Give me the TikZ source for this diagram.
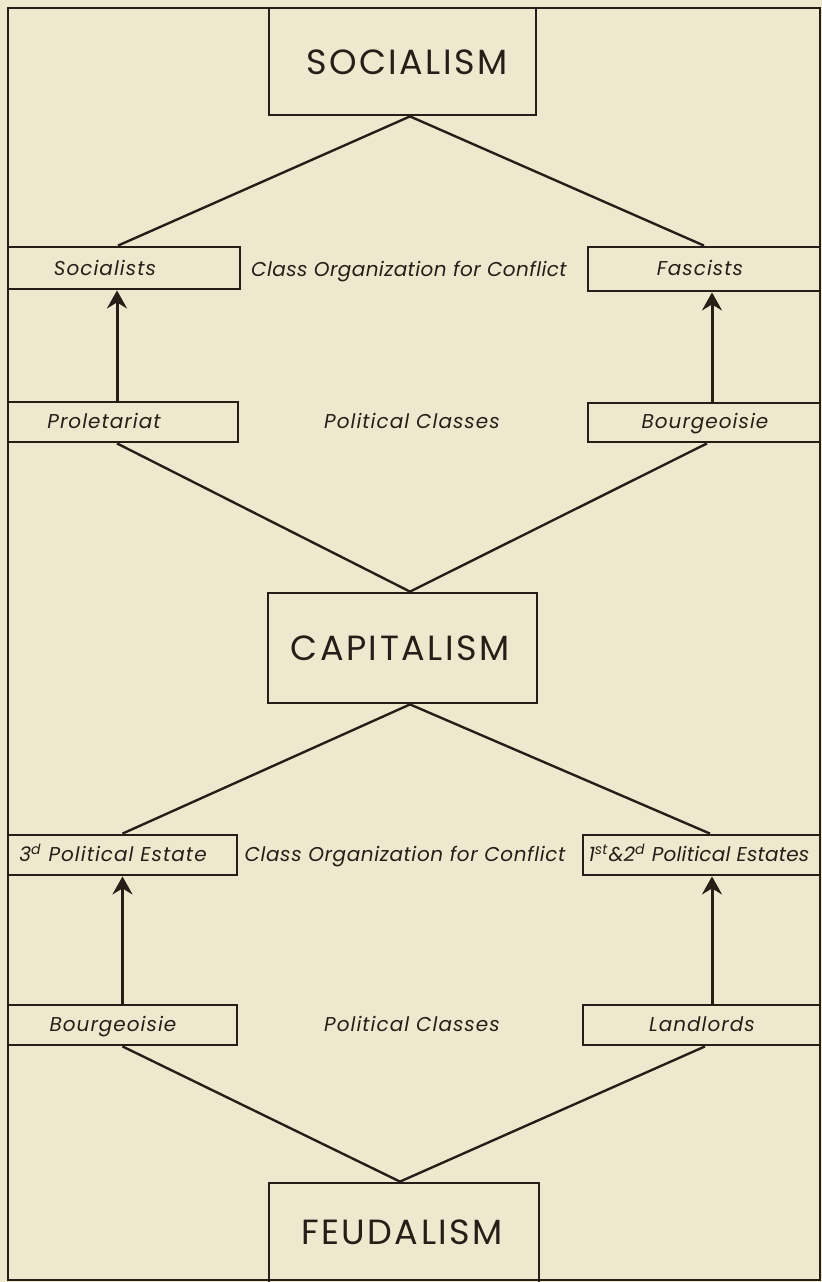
\documentclass[tikz,border=0pt]{standalone}
\usepackage{fontspec}
\setmainfont{Poppins}
\usetikzlibrary{arrows.meta}
\definecolor{bg}{RGB}{238,233,206}
\definecolor{ink}{RGB}{40,30,24}
\newfontfamily\titlefont[LetterSpace=7]{Poppins}
\newfontfamily\labelfont[LetterSpace=5]{Poppins}
\begin{document}
\begin{tikzpicture}[x=0.5pt,y=-0.5pt,
  box/.style={draw=ink, line width=1.4pt, rectangle, inner sep=0pt},
  bigtext/.style={font=\titlefont\fontsize{17.5}{20}\selectfont, text=ink, inner sep=0pt, text height=1.6ex, text depth=0pt},
  lab/.style={font=\labelfont\itshape\fontsize{10}{12}\selectfont, text=ink, inner sep=0pt, text height=1.6ex, text depth=0.45ex},
  link/.style={draw=ink, line width=1.2pt},
  arr/.style={draw=ink, line width=1.5pt, -{Stealth[length=9pt,width=10pt,inset=3pt]}}]
\fill[bg] (0,0) rectangle (822,1282);
\useasboundingbox (0,0) rectangle (822,1282);
\draw[ink, line width=1.2pt] (8,8) rectangle (820,1280);

% boxes
\node[box, minimum width=133.5pt, minimum height=53.5pt] (SOC) at (402.5,61.5) {};
\node[box, minimum width=116pt, minimum height=21pt] (SOCL) at (124,268) {};
\node[box, minimum width=116pt, minimum height=22pt] (FAS) at (704,269) {};
\node[box, minimum width=115pt, minimum height=20pt] (PRO) at (123,422) {};
\node[box, minimum width=116pt, minimum height=19.5pt] (BOU) at (704,422.5) {};
\node[box, minimum width=134.5pt, minimum height=55pt] (CAP) at (402.5,648) {};
\node[box, minimum width=114.5pt, minimum height=20pt] (ESL) at (122.5,855) {};
\node[box, minimum width=118.5pt, minimum height=20pt] (ESR) at (701.5,855) {};
\node[box, minimum width=114.5pt, minimum height=20pt] (BOL) at (122.5,1025) {};
\node[box, minimum width=118.5pt, minimum height=20pt] (LAN) at (701.5,1025) {};
\node[box, minimum width=135pt, minimum height=53.5pt] (FEU) at (404,1236.5) {};

% texts
\node[bigtext] (tSOC) at (407,66) {SOCIALISM};
\node[bigtext] (tCAP) at (400,652) {CAPITALISM};
\node[bigtext] (tFEU) at (402,1236) {FEUDALISM};
\node[lab] (tSOCL) at (105,269) {Socialists};
\node[lab] (tFAS) at (700,269) {Fascists};
\node[lab] (tCO1) at (409,270) {\addfontfeatures{LetterSpace=2}Class Organization for Conflict};
\node[lab] (tPRO) at (104,422) {Proletariat};
\node[lab] (tBOU) at (705,422) {Bourgeoisie};
\node[lab] (tPC1) at (412,422) {Political Classes};
\node[lab] (tESL) at (113,855) {3\textsuperscript{d} Political Estate};
\node[lab] (tCO2) at (405,855) {\addfontfeatures{LetterSpace=3}Class Organization for Conflict};
\node[lab] (tESR) at (699,855) {\addfontfeatures{LetterSpace=1}1\textsuperscript{st}\&2\textsuperscript{d} Political Estates};
\node[lab] (tBOL) at (113,1025) {Bourgeoisie};
\node[lab] (tPC2) at (412,1025) {Political Classes};
\node[lab] (tLAN) at (702,1025) {Landlords};

% diagonal links
\draw[link] ([xshift=3.75pt]SOC.south) -- ([xshift=-3pt]SOCL.north);
\draw[link] ([xshift=3.75pt]SOC.south) -- (FAS.north);
\draw[link] ([xshift=-3pt]PRO.south) -- ([xshift=3.75pt]CAP.north);
\draw[link] ([xshift=1.5pt]BOU.south) -- ([xshift=3.75pt]CAP.north);
\draw[link] ([xshift=3.75pt]CAP.south) -- (ESL.north);
\draw[link] ([xshift=3.75pt]CAP.south) -- ([xshift=4.25pt]ESR.north);
\draw[link] (BOL.south) -- ([xshift=-2pt]FEU.north);
\draw[link] ([xshift=1.75pt]LAN.south) -- ([xshift=-2pt]FEU.north);

% arrows
\coordinate (a1) at ([xshift=-3pt]PRO.north);
\coordinate (a2) at ([xshift=4pt]BOU.north);
\coordinate (a3) at (BOL.north);
\coordinate (a4) at ([xshift=5.25pt]LAN.north);
\draw[arr] (a1) -- (a1 |- SOCL.south);
\draw[arr] (a2) -- (a2 |- FAS.south);
\draw[arr] (a3) -- (a3 |- ESL.south);
\draw[arr] (a4) -- (a4 |- ESR.south);
\end{tikzpicture}
\end{document}
